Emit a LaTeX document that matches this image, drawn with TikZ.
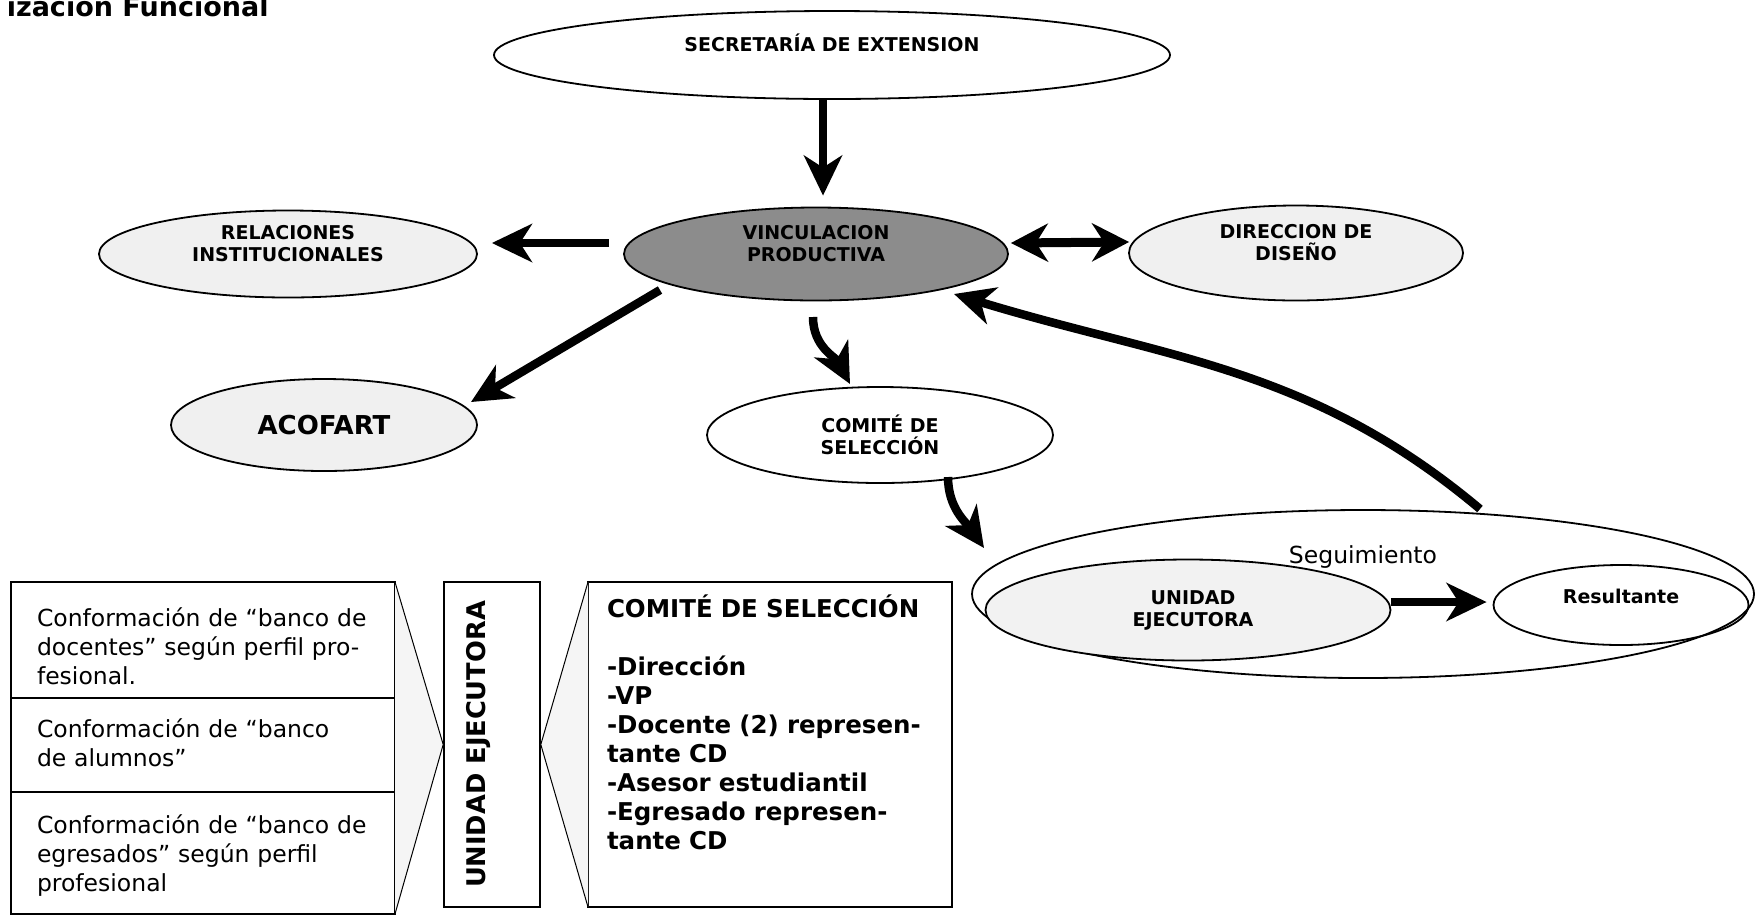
\documentclass[tikz,border=0pt]{standalone}
\usepackage{fontspec}
\setmainfont{DejaVu Sans}
\usetikzlibrary{shapes.geometric,arrows.meta,positioning}

\begin{document}
\begin{tikzpicture}[x=1pt,y=1pt,
	elipse/.style={ellipse,draw,line width=1.8pt,inner sep=0pt},
	etiq/.style={font=\bfseries\fontsize{19pt}{22pt}\selectfont,align=center},
	caja/.style={rectangle,draw,line width=1.6pt,anchor=north west,align=left,inner xsep=26pt,inner ysep=7pt,outer sep=0pt,text width=332pt,font=\fontsize{23.5pt}{29pt}\selectfont},
	flecha/.style={line width=8.5pt,-{Stealth[length=40pt,width=38pt,inset=12pt]}},
	doble/.style={line width=9pt,{Stealth[length=37pt,width=38pt,inset=12pt]}-{Stealth[length=37pt,width=38pt,inset=12pt]}}]
	\useasboundingbox (0,0) rectangle (1760,-914);
	\node[anchor=base east,font=\bfseries\fontsize{27pt}{30pt}\selectfont] (titulo) at (272,-16) {ización Funcional};
	
	\node[elipse,minimum width=676pt,minimum height=88pt,label={[etiq,yshift=12pt]center:SECRETARÍA DE EXTENSION}] (sec) at (832,-55) {};
	\node[elipse,fill=black!45,minimum width=384pt,minimum height=93pt,label={[etiq,yshift=10pt]center:VINCULACION\\PRODUCTIVA}] (vin) at (816,-254) {};
	\node[elipse,fill=black!6,minimum width=378pt,minimum height=87pt,label={[etiq,yshift=10pt]center:RELACIONES\\INSTITUCIONALES}] (rel) at (288,-254) {};
	\node[elipse,fill=black!6,minimum width=334pt,minimum height=95pt,label={[etiq,yshift=10pt]center:DIRECCION DE\\DISEÑO}] (dir) at (1296,-253) {};
	\node[elipse,fill=black!6,minimum width=306pt,minimum height=92pt,label={[etiq,font=\bfseries\fontsize{26pt}{30pt}\selectfont]center:ACOFART}] (aco) at (324,-425) {};
	\node[elipse,minimum width=346pt,minimum height=96pt,label={[etiq]center:COMITÉ DE\\SELECCIÓN}] (com) at (880,-435) {};
	\node[elipse,minimum width=782pt,minimum height=168pt,label={[font=\fontsize{23.5pt}{29pt}\selectfont,yshift=37pt]center:Seguimiento}] (seg) at (1363,-594) {};
	\node[elipse,fill=black!5,minimum width=405pt,minimum height=101pt,label={[etiq,xshift=5pt]center:UNIDAD\\EJECUTORA}] (uni) at (1188,-610) {};
	\node[elipse,minimum width=255pt,minimum height=80pt,label={[etiq,yshift=9pt]center:Resultante}] (res) at (1621,-605) {};
	
	\draw[flecha] ([xshift=-9pt]sec.south) -- ([shift={(7pt,11pt)}]vin.north);
	\draw[flecha] ([shift={(-14pt,11pt)}]vin.west) -- ([shift={(14pt,11pt)}]rel.east);
	\draw[doble] ([shift={(2pt,11pt)}]vin.east) -- ([shift={(1pt,11pt)}]dir.west);
	\draw[flecha] ([shift={(-156pt,-36pt)}]vin.center) -- ([shift={(147pt,23pt)}]aco.center);
	\draw[flecha] ([shift={(-3pt,-63pt)}]vin.center) to[out=-90,in=118] ([shift={(-30pt,51pt)}]com.center);
	\draw[flecha] ([shift={(68pt,-42pt)}]com.center) to[out=-90,in=125] ([shift={(-379pt,46pt)}]seg.center);
	\draw[flecha] ([yshift=8pt]uni.east) -- ([shift={(-6pt,3pt)}]res.west);
	\draw[flecha] ([shift={(117pt,85pt)}]seg.center) to[out=140,in=-17] ([shift={(138pt,-40pt)}]vin.center);
	
	\node[caja,text height=37pt,text depth=65pt] (fila1) at (11,-582) {Conformación de “banco de\\docentes” según perfil pro-\\fesional.};
	\node[caja,text height=32pt,text depth=48pt,below=0pt of fila1] (fila2) {Conformación de “banco\\de alumnos”};
	\node[caja,text height=34pt,text depth=74pt,below=0pt of fila2] (fila3) {Conformación de “banco de\\egresados” según perfil\\profesional};
	\node[draw,line width=1.6pt,minimum width=96pt,minimum height=325pt,inner sep=0pt,font=\bfseries\fontsize{25.7pt}{28pt}\selectfont] (ue) at (492,-744.5) {\rotatebox{90}{UNIDAD EJECUTORA}\kern27pt};
	\node[caja,font=\bfseries\fontsize{24.5pt}{29pt}\selectfont,inner xsep=19pt,text width=326pt,text height=28pt,text depth=283pt] (comi) at (588,-582) {COMITÉ DE SELECCIÓN\\[29pt]-Dirección\\-VP\\-Docente (2) represen-\\tante CD\\-Asesor estudiantil\\-Egresado represen-\\tante CD};
	
	\filldraw[fill=black!4,line width=1pt] (fila1.north east) -- (ue.west) -- (fila3.south east);
	\filldraw[fill=black!4,line width=1pt] (comi.north west) -- (ue.east) -- (comi.south west);
\end{tikzpicture}
\end{document}
